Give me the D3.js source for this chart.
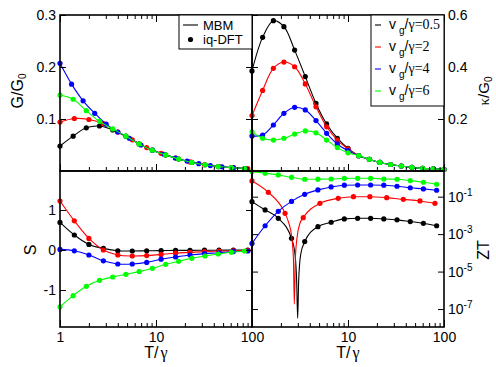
<!DOCTYPE html>
<html><head><meta charset="utf-8">
<script src="https://cdn.jsdelivr.net/npm/d3@7/dist/d3.min.js"></script>
<style>
body{margin:0;background:#fff}
svg{display:block;font-family:"Liberation Sans",Arial,Helvetica,sans-serif}
</style></head><body>
<svg id="chart" width="496" height="367"></svg>
<script>
// ---------- data ----------
const seriesColors=["#000000","#ff0000","#0000ff","#00ff00"];
const vgValues=["0.5","2","4","6"];
const xTickValues=[1,10,100];
const xMinorValues=[2,3,4,5,6,7,8,9,20,30,40,50,60,70,80,90];
const gTicks=[0.1,0.2,0.3];
const kTicks=[0.2,0.4,0.6];
const sTicks=[-1,0,1];
const ztTicks=[1e-1,1e-3,1e-5,1e-7];

const tA=[1,1.37,1.88,2.58,3.54,4.86,6.67,9.15,12.6,17.2,23.6,32.4,44.5,61,83.8];
const tSqrt2=[1,1.41,2,2.83,4,5.66,8,11.3,16,22.6,32,45.3,64,90.5];
const tBlueG=[1,1.32,1.74,2.3,3.03,4,5.28,6.97,9.2,12.1,16,21.1,27.9,36.8,48.6,64.1,84.6];
const tK=[1,1.29,1.67,2.15,2.78,3.59,4.64,5.99,7.74,10,12.9,16.7,21.5,27.8,35.9,46.4,59.9,77.4,100];
const tRedZT=[1,1.48,2.21,3.42,5.1,7.9,11.4,16.9,25.3,37.7,56.2,80.5];

const gBlack=[0.048,0.067,0.083,0.0865,0.079,0.067,0.052,0.040,0.031,0.023,0.0165,0.012,0.0086,0.0065,0.0048];
const gRed=[0.094,0.101,0.099,0.091,0.075,0.060,0.045,0.034,0.025,0.0175,0.012,0.0085,0.0063,0.0045];
const gBlue=[0.207,0.167,0.135,0.111,0.090,0.075,0.063,0.050,0.040,0.032,0.025,0.019,0.014,0.0105,0.008,0.0063,0.0048];
const gGreen=[0.146,0.138,0.116,0.0955,0.081,0.067,0.052,0.040,0.031,0.023,0.0165,0.012,0.0086,0.0065,0.0048];

const kBlack=[0.385,0.514,0.578,0.555,0.465,0.363,0.26,0.181,0.126,0.087,0.059,0.045,0.033,0.025,0.019,0.014,0.010,0.008,0.006];
const kRed=[0.213,0.31,0.395,0.419,0.401,0.335,0.247,0.17,0.119,0.085,0.059,0.045,0.033,0.025,0.019,0.014,0.010,0.008,0.006];
const kBlue=[0.135,0.138,0.177,0.222,0.245,0.235,0.194,0.145,0.104,0.078,0.059,0.045,0.033,0.025,0.019,0.014,0.010,0.008,0.006];
const kGreen=[0.151,0.126,0.119,0.126,0.142,0.154,0.147,0.119,0.090,0.070,0.059,0.045,0.033,0.025,0.019,0.014,0.010,0.008,0.006];

const sBlack=[0.69,0.375,0.14,0.04,-0.02,-0.025,-0.02,-0.015,-0.01,-0.01,-0.005,-0.005,0,0];
const sRed=[1.225,0.73,0.29,0.0,-0.125,-0.15,-0.14,-0.11,-0.08,-0.06,-0.04,-0.03,-0.02,-0.01];
const sBlue=[0.015,-0.02,-0.125,-0.27,-0.35,-0.35,-0.31,-0.23,-0.175,-0.125,-0.09,-0.07,-0.04,-0.025];
const sGreen=[-1.42,-1.142,-0.908,-0.758,-0.675,-0.608,-0.54,-0.458,-0.358,-0.283,-0.208,-0.15,-0.1,-0.058,-0.025];

const ztBlack=[0.054,0.0195,0.0070,6.0e-4,4.0e-4,2.5e-3,4.3e-3,6.5e-3,7.0e-3,7.0e-3,6.5e-3,5.8e-3,4.7e-3,3.8e-3,2.8e-3];
const ztRed=[0.69,0.171,0.0129,7.6e-3,0.0443,0.0818,0.1,0.1,0.089,0.072,0.059,0.0443];
const ztBlue=[3.2e-4,2.8e-3,0.0166,0.056,0.133,0.23,0.33,0.41,0.42,0.42,0.41,0.36,0.30,0.26,0.22];
const ztGreen=[2.2,1.8,1.45,1.08,0.85,0.86,0.88,0.95,0.96,0.96,0.88,0.85,0.72,0.59,0.46];
const ztBlackDipT=[2.81,2.92,2.99,3.06,3.21];
const ztBlackDip=[7.8e-5,2.9e-6,3.2e-8,2.9e-6,7.8e-5];
const ztRedDipT=[2.39,2.59,2.70,2.76,2.83,2.97,3.16];
const ztRedDip=[4.7e-3,7.2e-4,5.1e-5,1.8e-7,5.1e-5,8.9e-4,3.8e-3];

// ---------- layout ----------
const svg=d3.select("#chart");
const X0=60,XM=252,X1=444,Y0=15,YM=171,Y1=327;
const xLeft=d3.scaleLog().domain([1,100]).range([X0,XM]);
const xRight=d3.scaleLog().domain([1,100]).range([XM,X1]);
const yG=d3.scaleLinear().domain([0,0.3]).range([YM,Y0]);
const yK=d3.scaleLinear().domain([0,0.6]).range([YM,Y0]);
const yS=d3.scaleLinear().domain([-1.925,1.975]).range([Y1,YM]);
const yZ=d3.scaleLog().domain([1.1e-8,2.35]).range([Y1,YM]);

const zip=(t,v)=>t.map((d,i)=>[d,v[i]]);
const merge=(a,b)=>a.concat(b).sort((p,q)=>p[0]-q[0]);

function drawSeries(x,y,pts,linePts,color,curve){
  const g=svg.append("g");
  g.append("path").datum(linePts).attr("fill","none").attr("stroke",color).attr("stroke-width",1.1)
    .attr("d",d3.line().x(d=>x(d[0])).y(d=>y(d[1])).curve(curve));
  g.selectAll("circle").data(pts).join("circle")
    .attr("cx",d=>x(d[0])).attr("cy",d=>y(d[1])).attr("r",2.6).attr("fill",color);
}
const smooth=d3.curveCatmullRom.alpha(0.5);
const mono=d3.curveMonotoneX;

// G panel
[[tA,gBlack],[tSqrt2,gRed],[tBlueG,gBlue],[tA,gGreen]].forEach((s,i)=>{
  const p=zip(s[0],s[1]); drawSeries(xLeft,yG,p,p,seriesColors[i],smooth);});
// kappa panel
[kBlack,kRed,kBlue,kGreen].forEach((v,i)=>{
  const p=zip(tK,v); drawSeries(xRight,yK,p,p,seriesColors[i],smooth);});
// S panel
[[tSqrt2,sBlack],[tSqrt2,sRed],[tSqrt2,sBlue],[tA,sGreen]].forEach((s,i)=>{
  const p=zip(s[0],s[1]); drawSeries(xLeft,yS,p,p,seriesColors[i],smooth);});
// ZT panel
{
  const pb=zip(tA,ztBlack), pr=zip(tRedZT,ztRed), pbl=zip(tA,ztBlue), pg=zip(tA,ztGreen);
  drawSeries(xRight,yZ,pb,merge(pb,zip(ztBlackDipT,ztBlackDip)),seriesColors[0],mono);
  drawSeries(xRight,yZ,pr,merge(pr,zip(ztRedDipT,ztRedDip)),seriesColors[1],mono);
  drawSeries(xRight,yZ,pbl,pbl,seriesColors[2],mono);
  drawSeries(xRight,yZ,pg,pg,seriesColors[3],mono);
}

// ---------- axes ----------
function styleAxis(g,fs){
  g.select(".domain").remove();
  g.attr("font-family",null).attr("font-size",fs||14);
  g.selectAll(".tick line").attr("stroke","#000").attr("stroke-width",1);
  g.selectAll(".tick text").attr("fill","#000");
  return g;
}
function xAxes(x,yTop,yBot,labelFn,withTop){
  const b=svg.append("g").attr("transform",`translate(0,${yBot})`)
    .call(d3.axisBottom(x).tickValues(xTickValues).tickSize(-7).tickPadding(5).tickFormat(labelFn||(()=>"")));
  styleAxis(b);
  styleAxis(svg.append("g").attr("transform",`translate(0,${yBot})`)
    .call(d3.axisBottom(x).tickValues(xMinorValues).tickSize(-4).tickFormat(()=>"")));
  if(withTop){
    styleAxis(svg.append("g").attr("transform",`translate(0,${yTop})`)
      .call(d3.axisTop(x).tickValues(xTickValues).tickSize(-7).tickFormat(()=>"")));
    styleAxis(svg.append("g").attr("transform",`translate(0,${yTop})`)
      .call(d3.axisTop(x).tickValues(xMinorValues).tickSize(-4).tickFormat(()=>"")));
  }
}
xAxes(xLeft,Y0,YM,null,true);
xAxes(xRight,Y0,YM,null,true);
xAxes(xLeft,YM,Y1,d=>String(d),false);
xAxes(xRight,YM,Y1,d=>d===1?"":String(d),false);

function yAxes(y,ticks,xl,xr,labelSide,fmt){
  const left=svg.append("g").attr("transform",`translate(${xl},0)`)
    .call(d3.axisLeft(y).tickValues(ticks).tickSize(-6).tickPadding(4).tickFormat(labelSide==="left"?fmt:()=>""));
  styleAxis(left);
  const right=svg.append("g").attr("transform",`translate(${xr},0)`)
    .call(d3.axisRight(y).tickValues(ticks).tickSize(-6).tickPadding(4).tickFormat(labelSide==="right"?fmt:()=>""));
  styleAxis(right);
  return labelSide==="left"?left:right;
}
yAxes(yG,gTicks,X0,XM,"left",d=>d.toFixed(1));
yAxes(yK,kTicks,XM,X1,"right",d=>d.toFixed(1));
yAxes(yS,sTicks,X0,XM,"left",d=>String(d));
const zAx=yAxes(yZ,ztTicks,XM,X1,"right",d=>"x");
zAx.selectAll(".tick text").text("").each(function(d){
  const e=Math.round(Math.log10(d));
  const t=d3.select(this);
  t.append("tspan").text("10");
  t.append("tspan").attr("dy",-6).attr("font-size",10).text(String(e));
});

// frames
[[X0,Y0],[XM,Y0],[X0,YM],[XM,YM]].forEach(([x,y])=>{
  svg.append("rect").attr("x",x).attr("y",y).attr("width",XM-X0).attr("height",YM-Y0)
    .attr("fill","none").attr("stroke","#000").attr("stroke-width",1.6);
});

// ---------- axis titles ----------
function rotTitle(x,y,parts,fs){
  const t=svg.append("text").attr("transform",`translate(${x},${y}) rotate(-90)`)
    .attr("text-anchor","middle").attr("font-size",fs||16).attr("fill","#000");
  parts.forEach(p=>{
    const s=t.append("tspan").text(p.t);
    if(p.serif) s.attr("font-family","'Liberation Serif','Times New Roman',serif");
    if(p.sub){s.attr("font-size",10).attr("dy",3);}
  });
}
rotTitle(23,91,[{t:"G/G"},{t:"0",sub:true}]);
rotTitle(489,91,[{t:"κ",serif:true},{t:"/G"},{t:"0",sub:true}],15);
rotTitle(36,250,[{t:"S"}]);
rotTitle(489,250,[{t:"ZT"}]);
[[xLeft,156],[xRight,348]].forEach(([x,cx])=>{
  const t=svg.append("text").attr("x",cx).attr("y",358).attr("text-anchor","middle")
    .attr("font-size",16).attr("fill","#000");
  t.append("tspan").text("T/");
  t.append("tspan").attr("dx",2).attr("font-family","'Liberation Serif','Times New Roman',serif").text("γ");
});

// ---------- legends ----------
const lg1=svg.append("g");
lg1.append("rect").attr("x",179).attr("y",Y0).attr("width",XM-179).attr("height",34)
  .attr("fill","#fff").attr("stroke","#000").attr("stroke-width",1);
lg1.append("line").attr("x1",183).attr("x2",198).attr("y1",25).attr("y2",25).attr("stroke","#000").attr("stroke-width",1.1);
lg1.append("text").attr("x",203).attr("y",30).attr("font-size",13).text("MBM");
lg1.append("circle").attr("cx",190.5).attr("cy",39.5).attr("r",2.6).attr("fill","#000");
lg1.append("text").attr("x",203).attr("y",44).attr("font-size",13).text("iq-DFT");

const lg2=svg.append("g");
lg2.append("rect").attr("x",371).attr("y",Y0).attr("width",X1-371).attr("height",91)
  .attr("fill","#fff").attr("stroke","#000").attr("stroke-width",1);
vgValues.forEach((v,i)=>{
  const cy=25+i*22;
  lg2.append("line").attr("x1",375).attr("x2",381).attr("y1",cy).attr("y2",cy)
    .attr("stroke",seriesColors[i]).attr("stroke-width",1.1);
  const t=lg2.append("text").attr("x",389).attr("y",cy+4).attr("font-size",14).attr("fill","#000");
  t.append("tspan").text("v");
  t.append("tspan").attr("dx",3).attr("dy",5).attr("font-size",10).text("g");
  t.append("tspan").attr("dy",-5).text("/");
  t.append("tspan").attr("font-family","'Liberation Serif','Times New Roman',serif").text("γ="+v);
});
</script></body></html>
